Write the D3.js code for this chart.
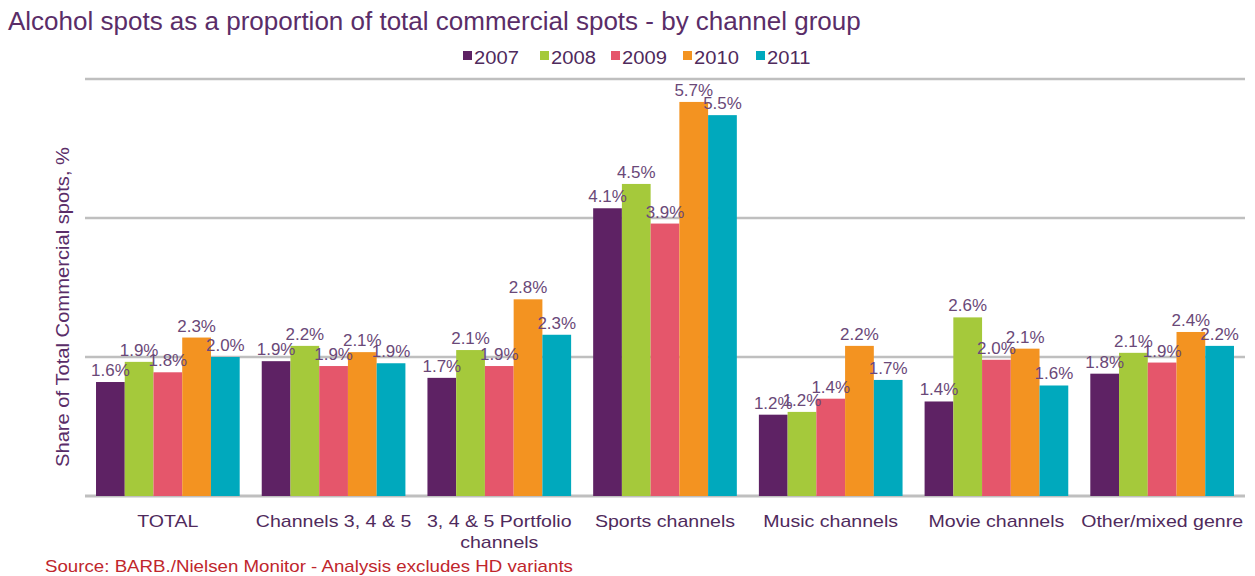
<!DOCTYPE html>
<html>
<head>
<meta charset="utf-8">
<script src="https://cdn.jsdelivr.net/npm/d3@7"></script>
<style>
  html, body { margin: 0; padding: 0; background: #fff; }
  svg { display: block; font-family: "Liberation Sans", Arial, sans-serif; }
</style>
</head>
<body>
<svg id="chart" width="1255" height="576"></svg>
<script>
const categories = ["TOTAL", "Channels 3, 4 & 5", "3, 4 & 5 Portfolio\nchannels", "Sports channels", "Music channels", "Movie channels", "Other/mixed genre"];
const years = ["2007", "2008", "2009", "2010", "2011"];
const v2007 = [1.64, 1.94, 1.70, 4.14, 1.17, 1.36, 1.76];
const v2008 = [1.93, 2.16, 2.10, 4.49, 1.21, 2.57, 2.06];
const v2009 = [1.78, 1.87, 1.87, 3.92, 1.40, 1.96, 1.92];
const v2010 = [2.28, 2.07, 2.83, 5.67, 2.16, 2.12, 2.36];
const v2011 = [2.00, 1.91, 2.32, 5.48, 1.67, 1.59, 2.16];
const yTicks = [0, 2, 4, 6];
const colors = ["#5e2264", "#a5c93b", "#e5566b", "#f39321", "#00a9bd"];

(function () {
const series = [v2007, v2008, v2009, v2010, v2011];
const data = categories.map((c, i) => ({cat: c, vals: years.map((y, j) => ({year: y, v: series[j][i], j}))}));

const svg = d3.select("#chart");
const mLeft = 85, mRight = 1245, mTop = 79, mBottom = 496;

function stretch(sel, f) {
  sel.each(function () {
    const w = this.getComputedTextLength();
    d3.select(this).attr("textLength", w * f).attr("lengthAdjust", "spacingAndGlyphs");
  });
}

const x0 = d3.scaleBand().domain(categories).range([mLeft, mRight]).paddingInner(0.133).paddingOuter(0.0665);
const x1 = d3.scaleBand().domain(years).range([0, x0.bandwidth()]).padding(0);
const y = d3.scaleLinear().domain([0, 6]).range([mBottom, mTop]);

// gridlines
svg.append("g").selectAll("line").data(yTicks).join("line")
  .attr("x1", mLeft).attr("x2", mRight)
  .attr("y1", d => y(d)).attr("y2", d => y(d))
  .attr("stroke", "#bfbfbf").attr("stroke-width", d => d === 0 ? 3 : 2.5);

// bars
const g = svg.append("g").selectAll("g").data(data).join("g")
  .attr("transform", d => `translate(${x0(d.cat)},0)`);
g.selectAll("rect").data(d => d.vals).join("rect")
  .attr("x", d => x1(d.year))
  .attr("width", x1.bandwidth())
  .attr("y", d => y(d.v))
  .attr("height", d => y(0) - y(d.v))
  .attr("fill", d => colors[d.j]);
const lbl = g.selectAll("text").data(d => d.vals).join("text")
  .attr("x", d => x1(d.year) + x1.bandwidth() / 2)
  .attr("y", d => y(d.v) - 6)
  .attr("text-anchor", "middle")
  .attr("font-size", 16)
  .attr("fill", "#6a4878")
  .text(d => d.v.toFixed(1) + "%");
stretch(lbl, 1.06);

// x axis labels
const xl = svg.append("g").selectAll("text").data(categories).join("text")
  .attr("x", d => x0(d) + x0.bandwidth() / 2)
  .attr("y", 527)
  .attr("text-anchor", "middle")
  .attr("font-size", 17)
  .attr("fill", "#4f2a5c");
xl.each(function(d) {
  const lines = d.split("\n");
  const t = d3.select(this);
  lines.forEach((l, i) => t.append("tspan").attr("x", x0(d) + x0.bandwidth() / 2).attr("dy", i ? 21 : 0).text(l));
});
xl.selectAll("tspan").each(function () {
  const w = this.getComputedTextLength();
  d3.select(this).attr("textLength", w * 1.15).attr("lengthAdjust", "spacingAndGlyphs");
});

// title
const title = svg.append("text").attr("x", 8).attr("y", 30)
  .attr("font-size", 25).attr("fill", "#5a2d68")
  .text("Alcohol spots as a proportion of total commercial spots - by channel group");
stretch(title, 1.04);

// legend
const legX = [463, 540, 611, 683, 756];
const lg = svg.append("g").selectAll("g").data(years).join("g")
  .attr("transform", (d, i) => `translate(${legX[i]},0)`);
lg.append("rect").attr("x", 0).attr("y", 51).attr("width", 9).attr("height", 9).attr("fill", (d, i) => colors[i]);
const lt = lg.append("text").attr("x", 11).attr("y", 64).attr("font-size", 18).attr("fill", "#4f2a5c").text(d => d);
stretch(lt, 1.12);

// y label
const yl = svg.append("text")
  .attr("transform", `translate(69,307) rotate(-90)`)
  .attr("text-anchor", "middle")
  .attr("font-size", 18).attr("fill", "#5a2d68")
  .text("Share of Total Commercial  spots, %");
stretch(yl, 1.12);

// source
const src = svg.append("text").attr("x", 45).attr("y", 572)
  .attr("font-size", 17).attr("fill", "#c0262c")
  .text("Source: BARB./Nielsen Monitor - Analysis excludes HD variants");
stretch(src, 1.1);
})();
</script>
</body>
</html>
